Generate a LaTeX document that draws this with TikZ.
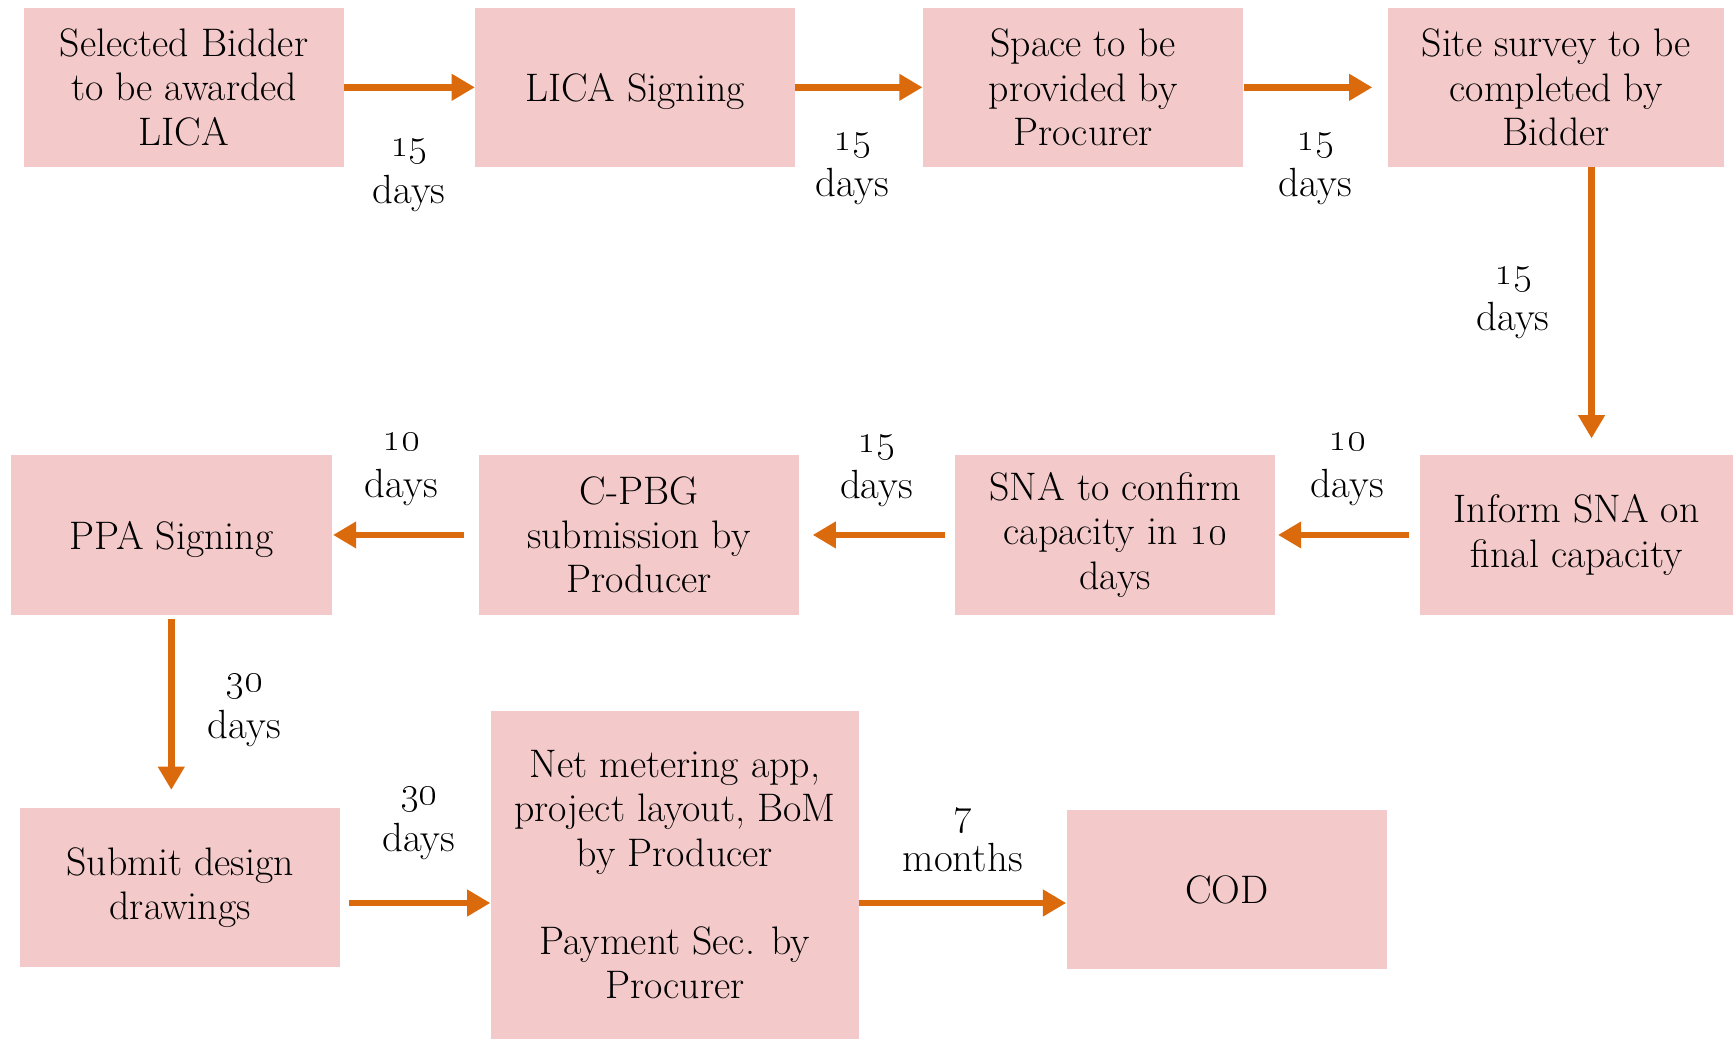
\documentclass[tikz,border=0pt]{standalone}
\usetikzlibrary{arrows.meta}
\definecolor{boxpink}{RGB}{243,201,202}
\definecolor{arroworange}{RGB}{219,106,12}
\begin{document}
\begin{tikzpicture}[x=0.02cm,y=-0.02cm,
  stepbox/.style={fill=boxpink, draw=none, align=center, inner sep=0pt,
    font=\fontsize{20.5}{22.8}\selectfont},
  lbl/.style={align=center, inner sep=0pt, font=\fontsize{21}{24}\selectfont},
  arr/.style={draw=arroworange, line width=0.12cm,
    -{Triangle[length=0.42cm,width=0.46cm]}}]
\useasboundingbox (0,0) rectangle (1568,941);
% row 1
\node[stepbox, minimum width=5.78cm, minimum height=2.88cm] (b1) at (166.5,79) {Selected Bidder\\to be awarded\\LICA};
\node[stepbox, minimum width=5.78cm, minimum height=2.88cm, text depth=0pt] (b2) at (574.5,79) {LICA Signing};
\node[stepbox, minimum width=5.80cm, minimum height=2.88cm] (b3) at (980,79) {Space to be\\provided by\\Procurer};
\node[stepbox, minimum width=6.08cm, minimum height=2.88cm] (b4) at (1408,79) {Site survey to be\\completed by\\Bidder};
% row 2
\node[stepbox, minimum width=5.66cm, minimum height=2.88cm] (b5) at (1426.5,484) {Inform SNA on\\final capacity};
\node[stepbox, minimum width=5.80cm, minimum height=2.88cm] (b6) at (1009,484) {SNA to confirm\\capacity in \oldstylenums{10}\\days};
\node[stepbox, minimum width=5.80cm, minimum height=2.88cm] (b7) at (578,484) {C-PBG\\submission by\\Producer};
\node[stepbox, minimum width=5.80cm, minimum height=2.88cm, text depth=0pt] (b8) at (155,484) {PPA Signing};
% row 3
\node[stepbox, minimum width=5.80cm, minimum height=2.88cm] (b9) at (163,803) {Submit design\\drawings};
\node[stepbox, minimum width=6.66cm, minimum height=5.94cm] (b10) at (610.5,791.5) {Net metering app,\\project layout, BoM\\by Producer\\[22.8pt]Payment Sec. by\\Procurer};
\node[stepbox, minimum width=5.80cm, minimum height=2.88cm] (b11) at (1110,805) {COD};
% labels
\node[lbl] (l1) at (370,159) {\oldstylenums{15}\\days};
\node[lbl] (l2) at (771,153) {\oldstylenums{15}\\days};
\node[lbl] (l3) at (1190,153) {\oldstylenums{15}\\days};
\node[lbl] (l4) at (1369,274) {\oldstylenums{15}\\days};
\node[lbl] (l5) at (1219,425) {\oldstylenums{10}\\days};
\node[lbl] (l6) at (793,426) {\oldstylenums{15}\\days};
\node[lbl] (l7) at (363,425) {\oldstylenums{10}\\days};
\node[lbl] (l8) at (221,643) {\oldstylenums{30}\\days};
\node[lbl] (l9) at (379,745) {\oldstylenums{30}\\days};
\node[lbl] (l10) at (871,760) {\oldstylenums{7}\\months};
% helper coordinates
\coordinate (a4x) at (1440,0);
\coordinate (r3) at (0,817);
% connectors
\draw[arr] (b1.east) -- (b2.west);
\draw[arr] (b2.east) -- (b3.west);
\draw[arr, shorten >=0.28cm] (b3.east) -- (b4.west);
\draw[arr, shorten >=0.30cm] (b4.south -| a4x) -- (b5.north -| a4x);
\draw[arr, shorten <=0.20cm, shorten >=0.04cm] (b5.west) -- (b6.east);
\draw[arr, shorten <=0.18cm, shorten >=0.24cm] (b6.west) -- (b7.east);
\draw[arr, shorten <=0.26cm, shorten >=0.02cm] (b7.west) -- (b8.east);
\draw[arr, shorten <=0.08cm, shorten >=0.32cm] (b8.south) -- (b8.south |- b9.north);
\draw[arr, shorten <=0.14cm] (b9.east |- r3) -- (b10.west |- r3);
\draw[arr] (b10.east |- r3) -- (b11.west |- r3);
\end{tikzpicture}
\end{document}
